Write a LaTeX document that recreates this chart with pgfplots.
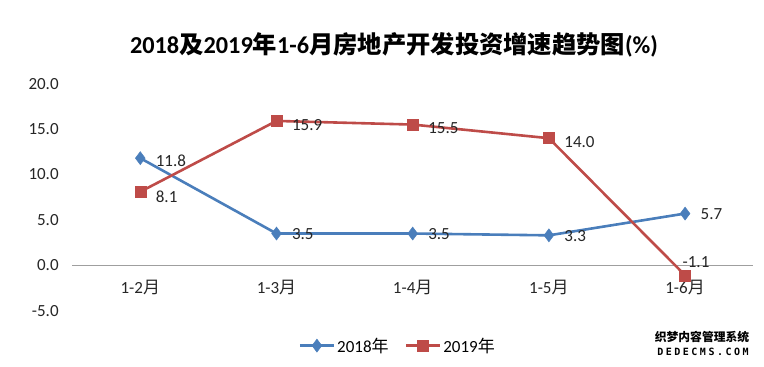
\documentclass[border=0pt]{standalone}
\usepackage{fontspec}
\setmainfont{Carlito}
\newfontfamily\cjk{Noto Sans CJK SC}
\newfontfamily\wm[LetterSpace=25]{DejaVu Sans Mono}
\usepackage{pgfplots}
\pgfplotsset{compat=1.18}
\definecolor{c18}{HTML}{4A7EBB}
\definecolor{c19}{HTML}{BE4B48}
\pgfplotstableread{
x y dx dy
0 11.8 12 -3
1 3.5 12 -1
2 3.5 12 -1
3 3.3 12 -1
4 5.7 12 -1
}\tblA
\pgfplotstableread{
x y dx dy
0 8.1 12 -5
1 15.9 12 -4
2 15.5 12 -4
3 14.0 12 -4
4 -1.1 -6 13
}\tblB
\begin{document}
\begin{tikzpicture}[x=1pt,y=1pt]
\begin{axis}[at={(53,62)}, anchor=south west, scale only axis,
  width=681pt, height=227pt,
  xmin=-0.5, xmax=4.5, ymin=-5, ymax=20,
  ytick={-5,0,5,10,15,20},
  xtick={0,1,2,3,4},
  xticklabels={1-2{\cjk 月},1-3{\cjk 月},1-4{\cjk 月},1-5{\cjk 月},1-6{\cjk 月}},
  axis line style={draw=none},
  major tick length=0pt,
  extra y ticks={0}, extra y tick labels={},
  extra y tick style={grid=major, major grid style={gray!75, line width=0.8pt}},
  /pgf/number format/assume math mode=true,
  yticklabel style={/pgf/number format/fixed, /pgf/number format/fixed zerofill, /pgf/number format/precision=1, xshift=-10pt},
  xticklabel style={yshift=34pt},
  tick label style={font=\fontsize{17}{20}\selectfont, text=black!85},
  clip=false,
  nodes near coords={\pgfmathprintnumber[fixed,fixed zerofill,precision=1]{\pgfplotspointmeta}},
  point meta=y,
  visualization depends on={\thisrow{dx} \as \dx},
  visualization depends on={\thisrow{dy} \as \dy},
  every node near coord/.append style={anchor=west, xshift=\dx pt, yshift=\dy pt, font=\fontsize{17}{20}\selectfont, text=black!85},
  legend style={at={(0.478,-0.154)}, anchor=center, draw=none, fill=none,
    legend columns=2, font=\fontsize{17}{20}\selectfont,
    /tikz/every even column/.append style={column sep=14pt}},
  legend image code/.code={\draw[mark repeat=2,mark phase=2] plot coordinates {(0pt,0pt) (17pt,0pt) (34pt,0pt)};},
]
\addplot[color=c18, line width=2.6pt, mark=diamond*, mark size=6.5pt, mark options={fill=c18, line width=0.5pt}] table[x=x,y=y] {\tblA};
\addlegendentry{2018{\cjk 年}}
\addplot[color=c19, line width=2.6pt, mark=square*, mark size=5.5pt, mark options={fill=c19, line width=0.5pt}] table[x=x,y=y] {\tblB};
\addlegendentry{2019{\cjk 年}}
\end{axis}
\node[font=\bfseries\fontsize{24.3}{27}\selectfont] at (394,322) {2018{\cjk 及}2019{\cjk 年}1-6{\cjk 月房地产开发投资增速趋势图}(\%)};
\node[font=\cjk\bfseries\fontsize{11.8}{13}\selectfont, inner sep=0pt] at (702,30) {织梦内容管理系统};
\node[font=\wm\bfseries\fontsize{10}{12}\selectfont, inner sep=0pt] at (703,15) {DEDECMS.COM};
\pgfresetboundingbox
\useasboundingbox (0,0) rectangle (764,367);
\end{tikzpicture}
\end{document}
